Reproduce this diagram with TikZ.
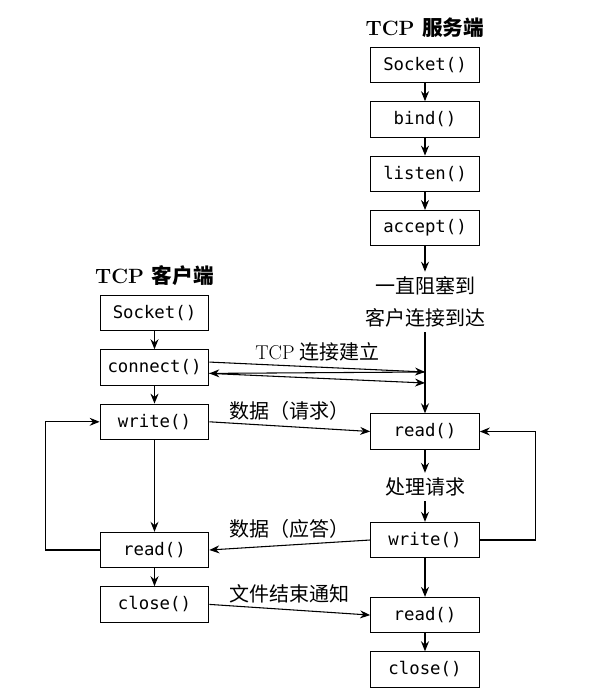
\documentclass[tikz,border=0pt]{standalone}
\usepackage{fontspec}
\setmonofont{DejaVu Sans Mono}
\newfontfamily\cjk{Noto Sans CJK SC}
\usetikzlibrary{positioning, arrows.meta}
\tikzset{
block/.style={
  draw,
  rectangle,
  minimum height=26.5pt,
  minimum width=81.5pt, font=\fontsize{13}{15}\selectfont\ttfamily
  },
line/.style={-{Stealth[length=7.5pt, width=6pt, inset=2.5pt]}},
lbl/.style={font=\fontsize{15}{24}\selectfont\cjk, align=center},
head/.style={font=\fontsize{15.5}{18}\selectfont\bfseries}
}

\begin{document}
\begin{tikzpicture}[x=0.75pt, y=-0.75pt, node distance=13.5pt, line width=0.8pt]
\useasboundingbox (0,0) rectangle (597,699);

% server
\node[head]		(stitle)		at (425,28)						{TCP {\cjk 服务端}};
\node[block]	(ssocket)	at (425,65)						{Socket()};
\node[block]	(sbind)		[below=of ssocket]				{bind()};
\node[block]	(slisten)	[below=of sbind]				{listen()};
\node[block]	(saccept)	[below=of slisten]				{accept()};
\node[lbl]		(swait)		at (425,302)					{一直阻塞到\\客户连接到达};
\node[block]	(sread)		at (425,431.5)					{read()};
\node[lbl]		(sproc)		at (425,487)					{处理请求};
\node[block]	(swrite)		at (425,540)					{write()};
\node[block]	(sreadend)	[below=29pt of swrite]			{read()};
\node[block]	(sclose)		[below=of sreadend]				{close()};

% client
\node[head]		(ctitle)		at (154.5,276)					{TCP {\cjk 客户端}};
\node[block]	(csocket)	at (154.5,313)					{Socket()};
\node[block]	(cconnect)	[below=of csocket]				{connect()};
\node[block]	(cwrite)		[below=of cconnect]				{write()};
\node[block]	(cread)		at (154.5,550)					{read()};
\node[block]	(cclose)		[below=of cread]				{close()};

\coordinate (syn) at (425,372);
\coordinate (ack) at (425,383);

\draw[line] 	(ssocket) 	-- 	(sbind);
\draw[line] 	(sbind) 		-- 	(slisten);
\draw[line] 	(slisten) 	-- 	(saccept);
\draw[line] 	(saccept) 	-- 	(swait);
\draw[line] 	(swait) 		-- 	(sread);
\draw[line] 	(sread) 		-- 	(sproc);
\draw[line] 	(sproc) 		-- 	(swrite);
\draw[line] 	(swrite) 		-- 	(sreadend);
\draw[line] 	(sreadend) 	-- 	(sclose);
\draw[line] 	(swrite.east) 	-- ++(56,0) |- 	(sread.east);

\draw[line] 	(csocket) 	-- 	(cconnect);
\draw[line] 	(cconnect) 	-- 	(cwrite);
\draw[line] 	(cwrite) 		-- 	(cread);
\draw[line] 	(cread) 		-- 	(cclose);
\draw[line] 	(cread.west) 	-- ++(-54,0) |- 	(cwrite.west);

\draw[line] 	([yshift=4pt]cconnect.east) 	-- 	node[lbl, midway, above=1pt] {{\rmfamily TCP} 连接建立} (syn);
\draw[line] 	(syn) 		-- 	([yshift=-4.5pt]cconnect.east);
\draw[line] 	([yshift=-4.5pt]cconnect.east) 	-- 	(ack);
\draw[line] 	(cwrite.east) 	-- 	node[lbl, midway, above=1pt] {数据（请求）} (sread.west);
\draw[line] 	(swrite.west) 	-- 	node[lbl, midway, above=1pt] {数据（应答）} (cread.east);
\draw[line] 	(cclose.east) 	-- 	node[lbl, midway, above=1pt] {文件结束通知} (sreadend.west);
\end{tikzpicture}
\end{document}
